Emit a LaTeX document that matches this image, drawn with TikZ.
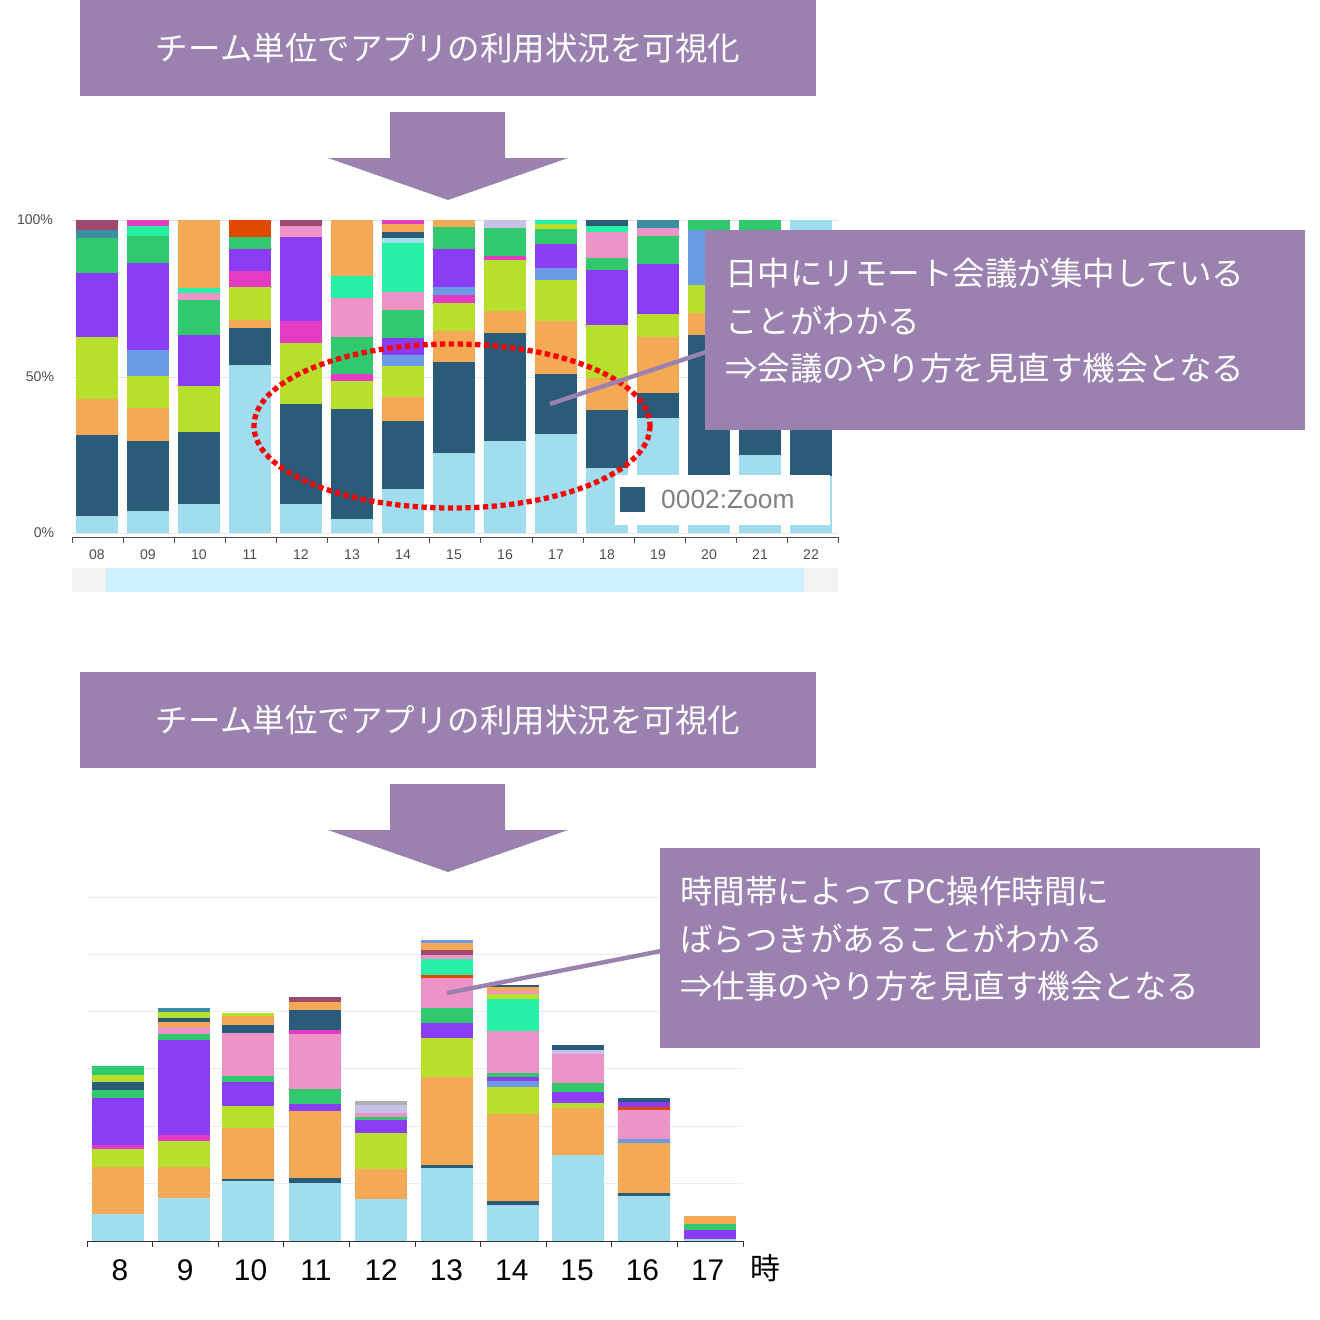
\documentclass[tikz,border=0pt]{standalone}
\usepackage{fontspec}
\setmainfont{Noto Sans CJK JP}
\newfontfamily\numfont{Liberation Sans}
\definecolor{pur}{HTML}{9A81B0}
\definecolor{lb}{HTML}{A0DDEF}
\definecolor{db}{HTML}{2A5B78}
\definecolor{or}{HTML}{F4A957}
\definecolor{li}{HTML}{B8DE2E}
\definecolor{pu}{HTML}{8B3CF5}
\definecolor{gr}{HTML}{32C86E}
\definecolor{pk}{HTML}{EE93C8}
\definecolor{mg}{HTML}{E33BC4}
\definecolor{mi}{HTML}{27F0A6}
\definecolor{bl}{HTML}{6C9BE6}
\definecolor{te}{HTML}{3A8FA0}
\definecolor{ma}{HTML}{9E4A6C}
\definecolor{rd}{HTML}{E04A00}
\definecolor{lv}{HTML}{C8C0E8}
\definecolor{gy}{HTML}{B0B0B0}
\newcommand\mybar[4]{\xdef\prevy{#2}%
\foreach \t/\c in {#4}{\fill[\c] (#1-#3,\prevy) rectangle (#1+#3,\t); \xdef\prevy{\t}}}
\tikzset{banner/.style={fill=pur,text=white,font=\fontsize{18.5}{22}\selectfont,inner sep=0},
callout/.style={fill=pur,text=white,font=\fontsize{18.5}{27}\selectfont,align=left,inner sep=0},
bigarrow/.style={fill=pur}}
\begin{document}
\begin{tikzpicture}[x=0.02cm,y=-0.02cm]
\useasboundingbox (0,0) rectangle (1320,1320);
% banners
\fill[pur] (80,0) rectangle (816,96);
\node[banner] (b1) at (448,48) {チーム単位でアプリの利用状況を可視化};
\fill[bigarrow] (390,112) -- (505,112) -- (505,158) -- (568,158) -- (448,200) -- (328,158) -- (390,158) -- cycle;
\fill[pur] (80,672) rectangle (816,768);
\node[banner] (b2) at (448,720) {チーム単位でアプリの利用状況を可視化};
\fill[bigarrow] (390,784) -- (505,784) -- (505,830) -- (568,830) -- (448,872) -- (328,830) -- (390,830) -- cycle;
% top chart
\foreach \y in {220,377,533} \draw[gray!20] (72,\y) -- (838,\y);
\mybar{97}{533}{21}{516/lb,435/db,399/or,337/li,273/pu,238/gr,230/te,220/ma}
\mybar{148}{533}{21}{511/lb,441/db,408/or,376/li,350/bl,263/pu,236/gr,226/mi,220/mg}
\mybar{199}{533}{21}{504/lb,432/db,386/li,335/pu,300/gr,293/pk,288/mi,220/or}
\mybar{250}{533}{21}{365/lb,328/db,320/or,287/li,271/mg,249/pu,237/gr,220/rd}
\mybar{301}{533}{21}{504/lb,404/db,343/li,321/mg,237/pu,226/pk,220/ma}
\mybar{352}{533}{21}{519/lb,409/db,381/li,374/mg,337/gr,298/pk,276/mi,220/or}
\mybar{403}{533}{21}{489/lb,421/db,397/or,366/li,355/bl,338/pu,310/gr,292/pk,243/mi,238/lb,232/db,224/or,220/mg}
\mybar{454}{533}{21}{453/lb,362/db,331/or,303/li,295/mg,287/bl,249/pu,227/gr,220/or}
\mybar{505}{533}{21}{441/lb,333/db,311/or,260/li,256/mg,228/gr,220/lv}
\mybar{556}{533}{21}{434/lb,374/db,321/or,280/li,268/bl,244/pu,229/gr,224/li,220/mi}
\mybar{607}{533}{21}{468/lb,410/db,378/or,325/li,270/pu,258/gr,232/pk,226/mi,220/db}
\mybar{658}{533}{21}{418/lb,393/db,337/or,314/li,264/pu,236/gr,228/pk,220/te}
\mybar{709}{533}{21}{476/lb,335/db,313/or,285/li,230/bl,220/gr}
\mybar{760}{533}{21}{455/lb,420/db,350/or,300/li,230/pu,220/gr}
\mybar{811}{533}{21}{476/lb,420/db,220/lb}
\fill[white] (615,475) rectangle (830,525);
\fill[db] (620,487) rectangle (645,512);
\node[anchor=west,font=\numfont\fontsize{15}{18}\selectfont,text=gray] (leg) at (655,499) {0002:Zoom};
\draw[black!70] (72,537) -- (838,537);
\foreach \i/\l in {0/08,1/09,2/10,3/11,4/12,5/13,6/14,7/15,8/16,9/17,10/18,11/19,12/20,13/21,14/22}{
\draw[black!70] (72+\i*51.1,537) -- (72+\i*51.1,543);
\node[font=\numfont\fontsize{8}{10}\selectfont,text=black!70] (t\i) at (97+\i*51,555) {\l};}
\draw[black!70] (838,537) -- (838,543);
\node[font=\numfont\fontsize{8}{10}\selectfont,text=black!70] (p100) at (35,220) {100\%};
\node[font=\numfont\fontsize{8}{10}\selectfont,text=black!70] (p50) at (40,377) {50\%};
\node[font=\numfont\fontsize{8}{10}\selectfont,text=black!70] (p0) at (44,533) {0\%};
\fill[gray!10] (72,568) rectangle (838,592);
\fill[blue!30!cyan!20] (106,568) rectangle (804,592);
\draw[line width=3pt,red,dotted] (452,426) ellipse [x radius=198,y radius=82];
% callout 1
\fill[pur] (705,230) rectangle (1305,430);
\node[callout,anchor=north west] (c1) at (725,258) {日中にリモート会議が集中している\\ことがわかる\\⇒会議のやり方を見直す機会となる};
\coordinate (c1a) at (550,404);
\coordinate (c1b) at (706,352);
\draw[pur,line width=2.5pt] (c1a) -- (c1b);
% bottom chart
\foreach \y in {897,954,1011,1068,1126,1183} \draw[gray!15] (87,\y) -- (743,\y);
\mybar{118}{1241}{26}{1214/lb,1167/or,1149/li,1145/mg,1098/pu,1090/gr,1082/db,1075/li,1066/gr}
\mybar{184}{1241}{26}{1198/lb,1167/or,1141/li,1135/mg,1040/pu,1034/gr,1027/pk,1022/or,1018/db,1012/li,1008/te}
\mybar{248}{1241}{26}{1181/lb,1179/db,1128/or,1106/li,1082/pu,1076/gr,1033/pk,1025/db,1016/or,1013/li}
\mybar{315}{1241}{26}{1183/lb,1178/db,1111/or,1104/pu,1089/gr,1034/pk,1030/mg,1010/db,1002/or,997/ma}
\mybar{381}{1241}{26}{1199/lb,1169/or,1133/li,1120/pu,1117/gr,1113/pk,1105/lv,1101/gy}
\mybar{447}{1241}{26}{1168/lb,1165/db,1077/or,1038/li,1023/pu,1008/gr,978/pk,975/rd,959/mi,955/pk,950/ma,943/or,940/bl}
\mybar{513}{1241}{26}{1205/lb,1201/db,1114/or,1087/li,1081/bl,1077/pu,1073/gr,1031/pk,999/mi,994/li,991/pk,987/or,985/db}
\mybar{578}{1241}{26}{1155/lb,1108/or,1103/li,1092/pu,1083/gr,1054/pk,1050/lv,1045/db}
\mybar{644}{1241}{26}{1196/lb,1193/db,1143/or,1139/bl,1110/pk,1107/rd,1102/pu,1098/db}
\mybar{710}{1241}{26}{1239/lb,1230/pu,1224/gr,1219/or,1216/or}
\draw[black!80] (87,1241) -- (743,1241);
\foreach \i in {0,...,10} \draw[black!80] (87+\i*65.6,1241) -- (87+\i*65.6,1247);
\foreach \i/\l in {0/8,1/9,2/10,3/11,4/12,5/13,6/14,7/15,8/16,9/17}
\node[font=\numfont\fontsize{17}{20}\selectfont] (h\i) at (120+\i*65.3,1270) {\l};
\node[font=\fontsize{17}{20}\selectfont] (ji) at (765,1268) {時};
% callout 2
\fill[pur] (660,848) rectangle (1260,1048);
\node[callout,anchor=north west] (c2) at (680,876) {時間帯によってPC操作時間に\\ばらつきがあることがわかる\\⇒仕事のやり方を見直す機会となる};
\coordinate (c2a) at (447,993);
\coordinate (c2b) at (661,951);
\draw[pur,line width=2.5pt] (c2a) -- (c2b);
\end{tikzpicture}
\end{document}
